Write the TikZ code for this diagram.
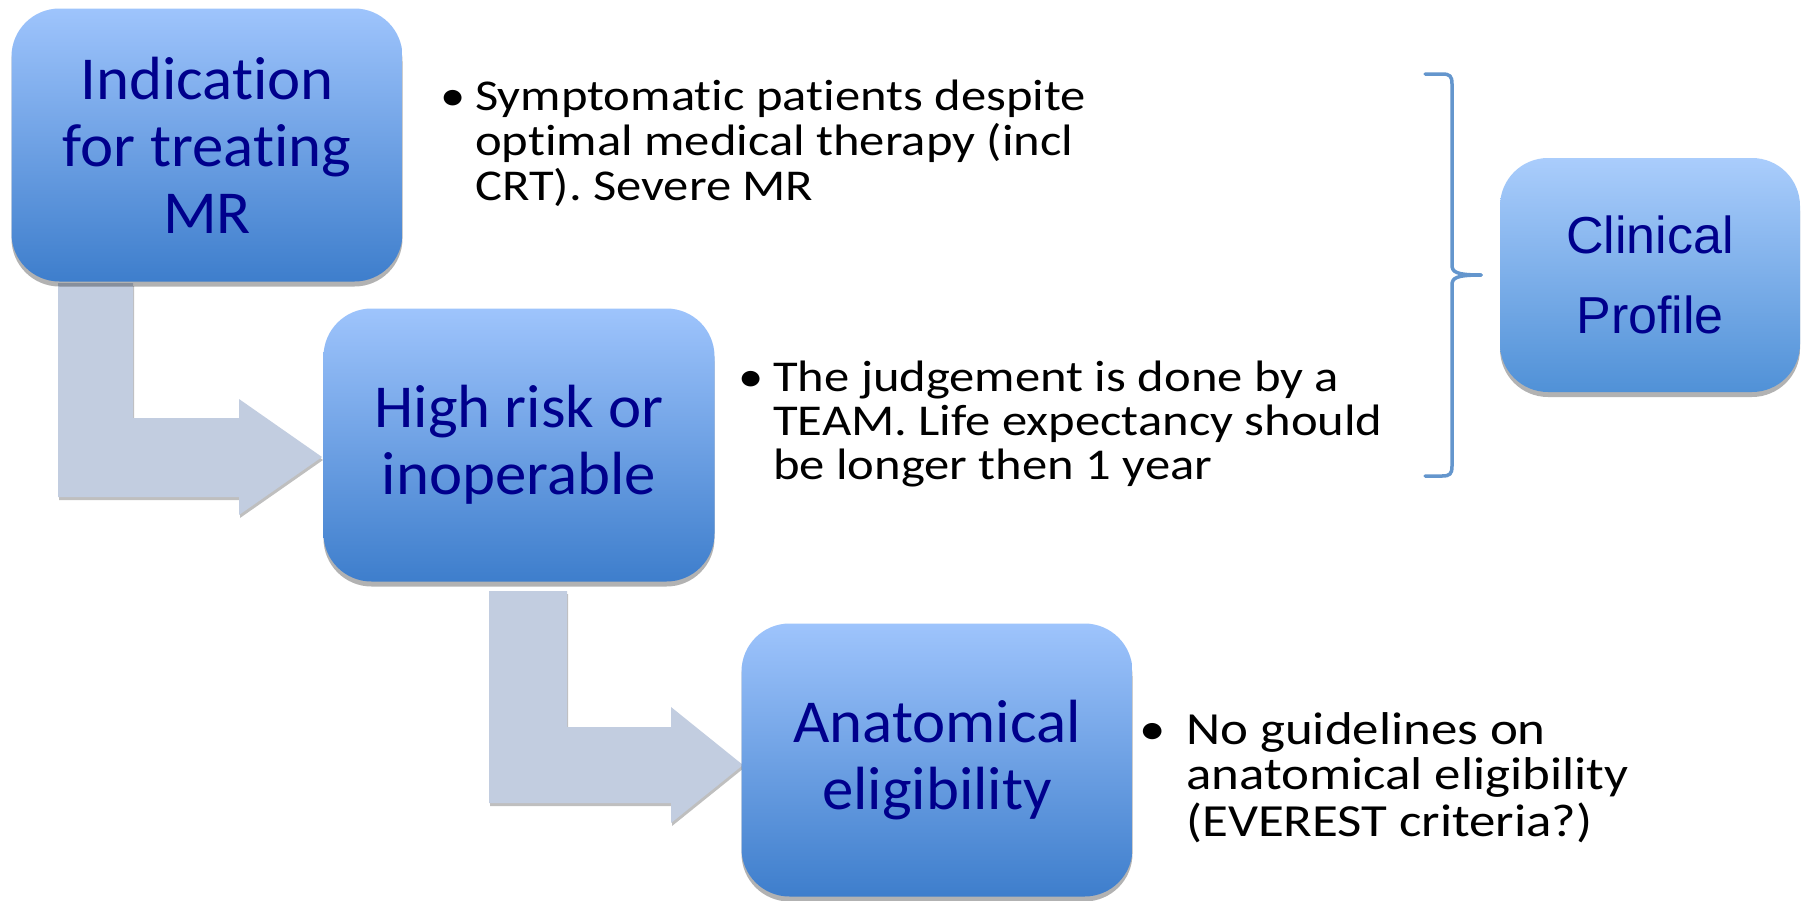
\documentclass[tikz,border=0pt]{standalone}
\usepackage{fontspec}
\setmainfont[Ligatures=NoCommon]{Carlito}
\newfontfamily\boxfont[FakeStretch=1.03,Ligatures=NoCommon]{Carlito}
\newfontfamily\bulletfont[FakeStretch=1.15,Ligatures=NoCommon]{Carlito}
\newfontfamily\arialfont{Liberation Sans}
\usetikzlibrary{shadows,calc}
\definecolor{boxtop}{RGB}{158,196,252}
\definecolor{boxbot}{RGB}{62,126,204}
\definecolor{cltop}{RGB}{170,205,252}
\definecolor{clbot}{RGB}{80,145,215}
\definecolor{navytext}{RGB}{0,0,140}
\definecolor{arrowc}{RGB}{194,205,224}
\definecolor{bracec}{RGB}{100,150,205}
\tikzset{
  stepbox/.style={rectangle, rounded corners=48pt, top color=boxtop, bottom color=boxbot,
    draw=none, minimum width=391pt, minimum height=273pt, inner sep=0pt,
    text=navytext, align=center, font=\boxfont\fontsize{61}{67}\selectfont,
    drop shadow={shadow xshift=0pt, shadow yshift=-5pt, opacity=0.3, fill=black}},
  clinbox/.style={stepbox, top color=cltop, bottom color=clbot, minimum width=300pt,
    minimum height=234pt, font=\arialfont\fontsize{52}{80}\selectfont},
  blockarrow/.style={fill=arrowc, draw=none,
    drop shadow={shadow xshift=1pt, shadow yshift=-3pt, opacity=0.25, fill=black}},
  bullettext/.style={anchor=base west, inner sep=0pt, text=black},
  bracestyle/.style={draw=bracec, line width=3.5pt, line cap=round, line join=round}
}
\begin{document}
\begin{tikzpicture}[x=1pt,y=-1pt]
\useasboundingbox[fill=white] (0,0) rectangle (1802,900);

% block arrows
\coordinate (t1) at (322,457);
\coordinate (t2) at (743,765);
\path[blockarrow] (t1) ++(-264,-174) -- ++(75,0) -- ++(0,135) -- ++(106,0) -- ++(0,-19)
  -- ++(83,58) -- ++(-83,58) -- ++(0,-18) -- ++(-181,0) -- cycle;
\path[blockarrow] (t2) ++(-254,-174) -- ++(78,0) -- ++(0,136) -- ++(104,0) -- ++(0,-20)
  -- ++(72,58) -- ++(-72,58) -- ++(0,-20) -- ++(-182,0) -- cycle;

% boxes
\node[stepbox] (box1) at (207,145) {Indication\\for treating\\MR};
\node[stepbox] (box2) at (519,445) {High risk or\\inoperable};
\node[stepbox] (box3) at (937,760) {Anatomical\\eligibility};
\node[clinbox] (clin) at (1650,275) {Clinical\\Profile};

% bullet texts
\node[bullettext] (txt1) at (475,110) {\bulletfont\fontsize{44}{44}\selectfont
  \begin{tabular}[t]{@{}l@{}}\llap{\textbullet\hspace{10pt}}Symptomatic patients despite\\
  optimal medical therapy (incl\\ CRT). Severe MR\end{tabular}};
\node[bullettext] (txt2) at (773,391) {\bulletfont\fontsize{44}{44}\selectfont
  \begin{tabular}[t]{@{}l@{}}\llap{\textbullet\hspace{10pt}}The judgement is done by a\\
  TEAM. Life expectancy should\\ be longer then 1 year\end{tabular}};
\node[bullettext] (txt3) at (1186,744) {\bulletfont\fontsize{46}{45.5}\selectfont
  \begin{tabular}[t]{@{}l@{}}\llap{\textbullet\hspace{20pt}}No guidelines on\\
  anatomical eligibility\\ (EVEREST criteria?)\end{tabular}};

% brace
\draw[bracestyle] (1425,74) -- (1442,74) .. controls (1450,74) and (1452,76) .. (1452,84)
  -- (1452,265) .. controls (1452,272) and (1456,275) .. (1481,275);
\draw[bracestyle] (1481,275) .. controls (1456,275) and (1452,278) .. (1452,285)
  -- (1452,466) .. controls (1452,474) and (1450,476) .. (1442,476) -- (1425,476);
\end{tikzpicture}
\end{document}
